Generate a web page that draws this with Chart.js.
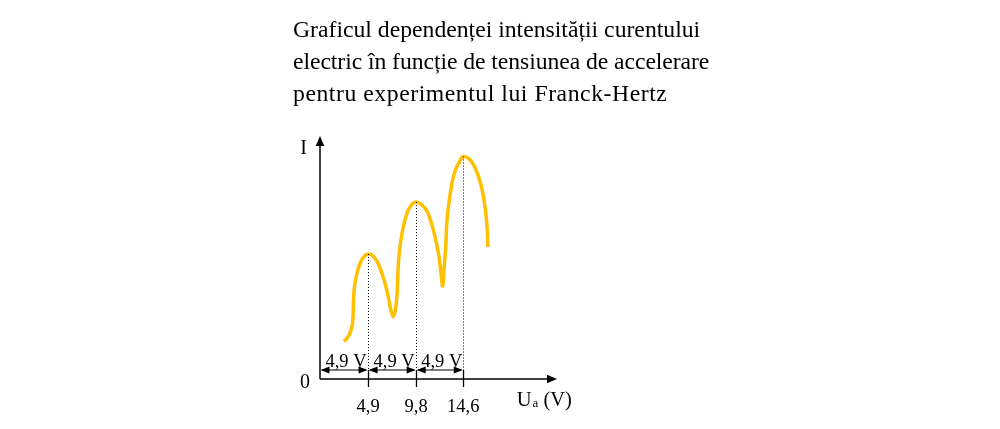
<!DOCTYPE html>
<html>
<head>
<meta charset="utf-8">
<script src="https://cdn.jsdelivr.net/npm/chart.js@4/dist/chart.umd.min.js"></script>
<style>
  html, body { margin: 0; padding: 0; background: #fff; }
  #wrap { position: relative; width: 1000px; height: 429px; overflow: hidden; }
  #title { position: absolute; left: 293px; top: 14.4px; font-family: "Liberation Serif", "Times New Roman", serif;
           font-size: 23.7px; line-height: 31.7px; color: #000; white-space: nowrap; }
  #title div { height: 31.7px; }
  canvas { position: absolute; left: 0; top: 0; }
</style>
</head>
<body>
<div id="wrap">
  <canvas id="c" width="1000" height="429"></canvas>
  <div id="title"></div>
</div>
<script>
// ---- data ----
const titleLines = [
  "Graficul dependenței intensității curentului",
  "electric în funcție de tensiunea de accelerare",
  "pentru experimentul lui Franck-Hertz"
];
// accelerating voltage Ua (V)
const ua = [2.46, 2.97, 3.31, 3.45, 3.7, 4.05, 4.45, 4.9, 5.4, 5.9, 6.4, 6.85, 7.2, 7.45,
            7.68, 7.85, 8.02, 8.36, 8.87, 9.35, 9.8, 10.4, 10.95, 11.6, 12.1, 12.35, 12.5,
            12.62, 12.8, 12.97, 13.45, 13.8, 14.2, 14.6, 15.35, 15.92, 16.38, 16.71, 16.94, 17.06, 17.12];
// current I (arbitrary units)
const curent = [3.73, 4.4, 5.5, 8.6, 10.3, 11.5, 12.2, 12.5, 12.3, 11.6, 10.3, 8.7, 7.0, 6.25,
                6.9, 8.4, 12.0, 14.6, 16.6, 17.45, 17.7, 17.4, 16.7, 14.7, 12.4, 10.4, 9.3,
                10.8, 13.0, 16.2, 19.6, 20.9, 21.7, 22.25, 21.85, 20.85, 19.5, 17.9, 16.2, 14.6, 13.2];
const peakVoltages = [4.9, 9.8, 14.6];
const tickLabels = ["4,9", "9,8", "14,6"];
const spacingLabel = "4,9 V";
const xAxisLabel = ["U", "a", " (V)"];
const yAxisLabel = "I";
const originLabel = "0";

const titleSpacing = ['0px', '-0.07px', '0.55px'];
const titleEl = document.getElementById('title');
titleLines.forEach((t, i) => {
  const d = document.createElement('div');
  d.textContent = t;
  d.style.letterSpacing = titleSpacing[i];
  titleEl.appendChild(d);
});

const points = ua.map((x, i) => ({ x: x, y: curent[i] }));

const SERIF = '"Liberation Serif", "Times New Roman", serif';

function arrowHead(ctx, tipX, tipY, dirX, dirY, len, half) {
  const bx = tipX - dirX * len, by = tipY - dirY * len;
  const px = -dirY, py = dirX;
  ctx.beginPath();
  ctx.moveTo(tipX, tipY);
  ctx.lineTo(bx + px * half, by + py * half);
  ctx.lineTo(bx - px * half, by - py * half);
  ctx.closePath();
  ctx.fill();
}

const decor = {
  id: 'decor',
  afterDatasetsDraw(chart) {
    const ctx = chart.ctx;
    const xs = chart.scales.x, ys = chart.scales.y;
    const area = chart.chartArea;
    const x0 = xs.getPixelForValue(0), y0 = ys.getPixelForValue(0);
    ctx.save();
    ctx.fillStyle = '#000';
    ctx.strokeStyle = '#000';

    // axes
    ctx.lineWidth = 1.5;
    ctx.beginPath();
    ctx.moveTo(x0, y0); ctx.lineTo(x0, area.top + 9);
    ctx.moveTo(x0, y0); ctx.lineTo(area.right - 9, y0);
    ctx.stroke();
    arrowHead(ctx, x0, area.top, 0, -1, 10, 4.3);
    arrowHead(ctx, area.right, y0, 1, 0, 10, 4.3);

    const arrowY = y0 - 9;
    // dotted lines from peaks and solid ticks
    peakVoltages.forEach((v) => {
      const idx = ua.indexOf(v);
      const px = xs.getPixelForValue(v);
      const py = ys.getPixelForValue(curent[idx]);
      ctx.save();
      ctx.lineWidth = 1;
      ctx.setLineDash([1, 2]);
      ctx.beginPath();
      ctx.moveTo(Math.round(px) + 0.5, py);
      ctx.lineTo(Math.round(px) + 0.5, arrowY);
      ctx.stroke();
      ctx.restore();
      ctx.lineWidth = 1.3;
      ctx.beginPath();
      ctx.moveTo(Math.round(px) + 0.5, arrowY);
      ctx.lineTo(Math.round(px) + 0.5, y0 + 8);
      ctx.stroke();
    });

    // double arrows with spacing labels
    const bounds = [0].concat(peakVoltages);
    ctx.font = '18.5px ' + SERIF;
    ctx.textAlign = 'center';
    ctx.textBaseline = 'alphabetic';
    for (let i = 0; i < bounds.length - 1; i++) {
      const a = xs.getPixelForValue(bounds[i]);
      const b = xs.getPixelForValue(bounds[i + 1]);
      ctx.lineWidth = 1.1;
      ctx.beginPath();
      ctx.moveTo(a + 2, arrowY); ctx.lineTo(b - 2, arrowY);
      ctx.stroke();
      arrowHead(ctx, a + 0.5, arrowY, -1, 0, 9, 3.6);
      arrowHead(ctx, b - 0.5, arrowY, 1, 0, 9, 3.6);
      ctx.fillText(spacingLabel, (a + b) / 2 + 2, arrowY - 3.5);
    }

    // tick labels
    ctx.font = '18.5px ' + SERIF;
    peakVoltages.forEach((v, i) => {
      ctx.fillText(tickLabels[i], xs.getPixelForValue(v), y0 + 32.7);
    });

    // origin and axis labels
    ctx.font = '20px ' + SERIF;
    ctx.fillText(originLabel, x0 - 15, y0 + 9.3);
    ctx.fillText(yAxisLabel, x0 - 16.5, area.top + 18);

    ctx.textAlign = 'left';
    let lx = x0 + 196.7;
    const by = y0 + 26.7;
    ctx.font = '20.5px ' + SERIF;
    ctx.fillText(xAxisLabel[0], lx, by);
    lx += ctx.measureText(xAxisLabel[0]).width + 1;
    ctx.font = '13px ' + SERIF;
    ctx.fillText(xAxisLabel[1], lx, by + 0.8);
    lx += ctx.measureText(xAxisLabel[1]).width;
    ctx.font = '20.5px ' + SERIF;
    ctx.fillText(xAxisLabel[2], lx, by);
    ctx.restore();
  }
};

new Chart(document.getElementById('c'), {
  type: 'scatter',
  data: {
    datasets: [{
      data: points,
      showLine: true,
      borderColor: '#FFC000',
      borderWidth: 3.5,
      pointRadius: 0,
      pointHoverRadius: 0,
      tension: 0.4,
      fill: false,
      borderCapStyle: 'butt'
    }]
  },
  options: {
    responsive: false,
    animation: false,
    events: [],
    layout: { padding: { left: 320, right: 443, top: 136, bottom: 50 } },
    scales: {
      x: { type: 'linear', min: 0, max: 24.15, display: false },
      y: { type: 'linear', min: 0, max: 24.3, display: false }
    },
    plugins: { legend: { display: false }, tooltip: { enabled: false }, title: { display: false } }
  },
  plugins: [decor]
});
</script>
</body>
</html>
